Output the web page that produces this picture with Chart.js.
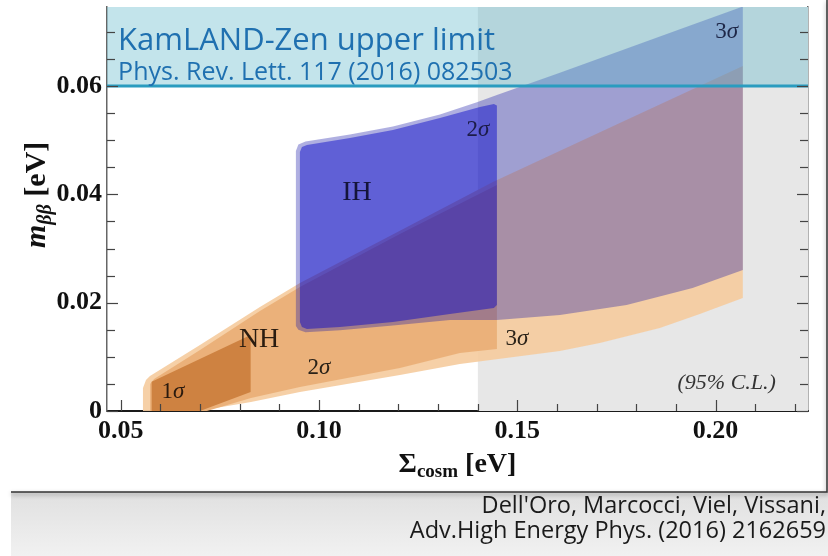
<!DOCTYPE html>
<html>
<head>
<meta charset="utf-8">
<script src="https://cdn.jsdelivr.net/npm/chart.js@4.4.1/dist/chart.umd.min.js"></script>
<style>
  html, body { margin: 0; padding: 0; background: #fff; }
  #wrap { width: 828px; height: 556px; }
</style>
</head>
<body>
<div id="wrap"><canvas id="c" width="828" height="556"></canvas></div>
<script>
// Axis ranges: Σ_cosm [eV] horizontally, m_ββ [eV] vertically
const xRange = [0.04655, 0.2233];
const yRange = [0, 0.0746];
const xMajorTicks = [0.05, 0.10, 0.15, 0.20];
const xMinorTicks = [0.06, 0.07, 0.08, 0.09, 0.11, 0.12, 0.13, 0.14, 0.16, 0.17, 0.18, 0.19, 0.21, 0.22];
const yMajorTicks = [0, 0.02, 0.04, 0.06];
const yMinorTicks = [0.005, 0.01, 0.015, 0.025, 0.03, 0.035, 0.045, 0.05, 0.055, 0.065, 0.07];

const kamlandLimit = 0.06;      // KamLAND-Zen bound on m_ββ
const disfavouredFrom = 0.14;   // Σ beyond this is shaded grey

// Normal hierarchy, 3σ region: upper edge left→right, lower edge right→left
const nh3Upper = [[0.05562, 0], [0.05562, 0.00425], [0.05638, 0.00572], [0.05739, 0.00646], [0.06999, 0.0122],
  [0.08511, 0.0192], [0.09519, 0.02363], [0.1204, 0.03329], [0.14384, 0.04228], [0.17585, 0.05316], [0.20686, 0.0637]];
const nh3Lower = [[0.20686, 0.02086], [0.19602, 0.01791], [0.18594, 0.01532], [0.17081, 0.01256], [0.16073, 0.01108],
  [0.13552, 0.00868], [0.1204, 0.00665], [0.09519, 0.00351], [0.08285, 0.00166], [0.06954, 0]];

// Normal hierarchy, 2σ region
const nh2Upper = [[0.05741, 0], [0.05741, 0.00499], [0.05842, 0.00591], [0.07, 0.01126], [0.08511, 0.01846],
  [0.09519, 0.0229], [0.1204, 0.03268], [0.14486, 0.04173]];
const nh2Lower = [[0.14486, 0.01145], [0.13553, 0.01071], [0.1204, 0.00794], [0.09519, 0.00443], [0.08285, 0.0024], [0.07175, 0]];

// Normal hierarchy, 1σ region
const nh1Upper = [[0.05781, 0], [0.05781, 0.00541], [0.08277, 0.01403]];
const nh1Lower = [[0.08277, 0.00351], [0.06999, 0]];

// Inverted hierarchy, 3σ region
const ih3Upper = [[0.09418, 0.01569], [0.09418, 0.04800], [0.09480, 0.04920], [0.09660, 0.04975], [0.1078, 0.05106],
  [0.11864, 0.05253], [0.13049, 0.05475], [0.13982, 0.05700], [0.14486, 0.05835], [0.16074, 0.06248],
  [0.17587, 0.06649], [0.19099, 0.0705], [0.20687, 0.07469]];
const ih3Lower = [[0.20687, 0.02603], [0.19419, 0.02271], [0.17755, 0.01957], [0.16074, 0.01773], [0.14486, 0.0168],
  [0.13301, 0.01680], [0.11864, 0.01580], [0.10528, 0.01490], [0.09660, 0.01455], [0.09480, 0.01500]];

// Inverted hierarchy, 2σ region
const ih2Upper = [[0.09519, 0.01643], [0.09519, 0.04782], [0.0957, 0.04875], [0.09696, 0.04911], [0.1078, 0.05041],
  [0.11864, 0.05188], [0.13049, 0.0541], [0.14057, 0.05613], [0.1441, 0.05669], [0.14486, 0.0564]];
const ih2Lower = [[0.14486, 0.01957], [0.1441, 0.01902], [0.13301, 0.01791], [0.11864, 0.01643], [0.10528, 0.01551],
  [0.09696, 0.01514], [0.0957, 0.01551]];

// In-plot labels, anchored in data coordinates
const sigmaNotes = [
  { n: '3', x: 0.2028, y: 0.0700, color: '#1e2748' },
  { n: '2', x: 0.1401, y: 0.0519, color: '#1c1c48' },
  { n: '2', x: 0.1000, y: 0.0079, color: '#2a2218' },
  { n: '1', x: 0.0632, y: 0.0035, color: '#2a1a0e' },
  { n: '3', x: 0.1499, y: 0.0133, color: '#2a2218' }
];
const hierarchyNotes = [
  { text: 'IH', x: 0.1096, y: 0.0404, color: '#14143a' },
  { text: 'NH', x: 0.0849, y: 0.0131, color: '#2a1c10' }
];
const clNote = { text: '(95% C.L.)', x: 0.2028, y: 0.0052 };
const kamlandTitle = 'KamLAND-Zen upper limit';
const kamlandRef = 'Phys. Rev. Lett. 117 (2016) 082503';
const creditLines = ["Dell'Oro, Marcocci, Viel, Vissani,", 'Adv.High Energy Phys. (2016) 2162659'];

const SERIF = '"Liberation Serif", "Times New Roman", serif';
const SANS = '"Open Sans", "DejaVu Sans", sans-serif';
const NONE = 'rgba(0,0,0,0)';

function polygon(upper, lower) {
  return upper.concat(lower).map(([x, y]) => ({ x, y }));
}
function region(label, upper, lower, color, order) {
  return {
    label, data: polygon(upper, lower), fill: 'shape', backgroundColor: color,
    borderColor: NONE, borderWidth: 0, pointRadius: 0, pointHoverRadius: 0, order
  };
}
// keep the plot frame exactly where the scales are sized, without label overhang padding
function noOverhang(s) {
  s.paddingTop = 0; s.paddingBottom = 0; s.paddingLeft = 0; s.paddingRight = 0;
}

function sigmaLabel(ctx, n, cx, cy, size, color) {
  ctx.font = `${size}px ${SERIF}`;
  const w1 = ctx.measureText(n).width;
  ctx.font = `italic ${size}px ${SERIF}`;
  const w2 = ctx.measureText('σ').width;
  const x0 = cx - (w1 + w2) / 2;
  ctx.fillStyle = color;
  ctx.textAlign = 'left';
  ctx.textBaseline = 'middle';
  ctx.font = `${size}px ${SERIF}`;
  ctx.fillText(n, x0, cy);
  ctx.font = `italic ${size}px ${SERIF}`;
  ctx.fillText('σ', x0 + w1, cy);
}

const decor = {
  id: 'decor',
  beforeDraw(chart) {
    const { ctx, width, height } = chart;
    ctx.save();
    ctx.fillStyle = '#ffffff';
    ctx.fillRect(0, 0, width, height);
    // credit strip under the panel
    const g = ctx.createLinearGradient(0, 492, 0, height);
    g.addColorStop(0, '#e0e0e0');
    g.addColorStop(1, '#f1f1f1');
    ctx.fillStyle = g;
    ctx.fillRect(11, 492, width - 11, height - 492);
    // panel edge with a soft shadow
    ctx.save();
    ctx.shadowColor = 'rgba(0,0,0,0.4)';
    ctx.shadowBlur = 4;
    ctx.shadowOffsetY = 2;
    ctx.strokeStyle = '#333';
    ctx.lineWidth = 1.5;
    ctx.beginPath();
    ctx.moveTo(11, 492);
    ctx.lineTo(827, 492);
    ctx.lineTo(827, 0);
    ctx.stroke();
    ctx.restore();
    ctx.fillStyle = '#1a1a1a';
    ctx.font = `23.5px ${SANS}`;
    ctx.textAlign = 'right';
    ctx.textBaseline = 'alphabetic';
    ctx.fillText(creditLines[0], 826, 513);
    ctx.fillText(creditLines[1], 826, 538);
    ctx.restore();
  },
  afterDraw(chart) {
    const { ctx, chartArea: a } = chart;
    const xs = chart.scales.x, ys = chart.scales.y;
    ctx.save();
    // inward tick marks on bottom, left and right edges
    ctx.strokeStyle = '#444';
    ctx.lineWidth = 1.2;
    const seg = (x1, y1, x2, y2) => { ctx.beginPath(); ctx.moveTo(x1, y1); ctx.lineTo(x2, y2); ctx.stroke(); };
    xMajorTicks.forEach(v => { const p = Math.round(xs.getPixelForValue(v)) + 0.5; seg(p, a.bottom, p, a.bottom - 11); });
    xMinorTicks.forEach(v => { const p = Math.round(xs.getPixelForValue(v)) + 0.5; seg(p, a.bottom, p, a.bottom - 7); });
    yMajorTicks.forEach(v => {
      const p = Math.round(ys.getPixelForValue(v)) + 0.5;
      seg(a.left, p, a.left + 11, p); seg(a.right, p, a.right - 11, p);
    });
    yMinorTicks.forEach(v => {
      const p = Math.round(ys.getPixelForValue(v)) + 0.5;
      seg(a.left, p, a.left + 8, p); seg(a.right, p, a.right - 8, p);
    });

    // KamLAND-Zen caption
    ctx.fillStyle = '#1f70b0';
    ctx.textAlign = 'left';
    ctx.textBaseline = 'alphabetic';
    const kx = xs.getPixelForValue(0.04935);
    ctx.font = `31px ${SANS}`;
    ctx.fillText(kamlandTitle, kx, ys.getPixelForValue(0.06666));
    ctx.font = `25px ${SANS}`;
    ctx.fillText(kamlandRef, kx, ys.getPixelForValue(0.06112));

    // region labels
    hierarchyNotes.forEach(n => {
      ctx.font = `28px ${SERIF}`;
      ctx.fillStyle = n.color;
      ctx.textAlign = 'center';
      ctx.textBaseline = 'middle';
      ctx.fillText(n.text, xs.getPixelForValue(n.x), ys.getPixelForValue(n.y));
    });
    sigmaNotes.forEach(n => sigmaLabel(ctx, n.n, xs.getPixelForValue(n.x), ys.getPixelForValue(n.y), 23, n.color));
    ctx.font = `italic 22px ${SERIF}`;
    ctx.fillStyle = '#333';
    ctx.textAlign = 'center';
    ctx.textBaseline = 'middle';
    ctx.fillText(clNote.text, xs.getPixelForValue(clNote.x), ys.getPixelForValue(clNote.y));

    // axis titles
    ctx.fillStyle = '#111';
    ctx.textAlign = 'left';
    ctx.textBaseline = 'alphabetic';
    // Σ_cosm [eV]
    const parts = [
      { t: 'Σ', f: `bold 28px ${SERIF}`, dy: 0 },
      { t: 'cosm', f: `bold 19px ${SERIF}`, dy: 5 },
      { t: ' [eV]', f: `bold 28px ${SERIF}`, dy: 0 }
    ];
    let total = 0;
    parts.forEach(p => { ctx.font = p.f; p.w = ctx.measureText(p.t).width; total += p.w; });
    let x = (a.left + a.right) / 2 - total / 2;
    parts.forEach(p => { ctx.font = p.f; ctx.fillText(p.t, x, 472 + p.dy); x += p.w; });
    // m_ββ [eV]
    ctx.translate(45, 248);
    ctx.rotate(-Math.PI / 2);
    const vparts = [
      { t: 'm', f: `italic bold 30px ${SERIF}`, dy: 0 },
      { t: 'ββ', f: `italic bold 20px ${SERIF}`, dy: 6 },
      { t: ' [eV]', f: `bold 30px ${SERIF}`, dy: 0 }
    ];
    x = 0;
    vparts.forEach(p => { ctx.font = p.f; ctx.fillText(p.t, x, p.dy); x += ctx.measureText(p.t).width; });
    ctx.restore();
  }
};

new Chart(document.getElementById('c'), {
  type: 'line',
  data: {
    datasets: [
      {
        label: 'disfavoured', data: [{ x: disfavouredFrom, y: yRange[1] }, { x: xRange[1], y: yRange[1] }],
        fill: 'start', backgroundColor: '#e7e7e7', borderColor: NONE, borderWidth: 0, pointRadius: 0, order: 9
      },
      region('NH 3σ', nh3Upper, nh3Lower, 'rgba(245,204,160,0.92)', 8),
      region('NH 2σ', nh2Upper, nh2Lower, 'rgba(234,176,120,0.96)', 7),
      region('NH 1σ', nh1Upper, nh1Lower, 'rgba(204,128,62,0.96)', 6),
      region('IH 3σ', ih3Upper, ih3Lower, 'rgba(26,26,169,0.35)', 5),
      region('IH 2σ', ih2Upper, ih2Lower, 'rgba(0,0,202,0.45)', 4),
      {
        label: 'KamLAND-Zen', data: [{ x: xRange[0], y: kamlandLimit }, { x: xRange[1], y: kamlandLimit }],
        fill: 'end', backgroundColor: 'rgba(97,184,203,0.38)', borderColor: '#2a9cbf', borderWidth: 3,
        pointRadius: 0, order: 1
      }
    ]
  },
  options: {
    responsive: false,
    animation: false,
    events: [],
    layout: { padding: { top: 7, left: 0, right: 0, bottom: 0 } },
    plugins: { legend: { display: false }, tooltip: { enabled: false } },
    scales: {
      x: {
        type: 'linear', position: 'bottom', min: xRange[0], max: xRange[1], z: 1,
        grid: { display: false, drawTicks: false },
        border: { display: true, color: '#1a1a1a', width: 2 },
        ticks: {
          autoSkip: false, maxRotation: 0, padding: 5, color: '#111',
          font: { family: SERIF, weight: 'bold', size: 26 },
          callback: v => Number(v).toFixed(2)
        },
        afterBuildTicks: s => { s.ticks = xMajorTicks.map(v => ({ value: v })); },
        afterFit: s => { s.height = 145; noOverhang(s); }
      },
      y: {
        type: 'linear', position: 'left', min: yRange[0], max: yRange[1], z: 1,
        grid: { display: false, drawTicks: false },
        border: { display: true, color: '#666', width: 1.5 },
        ticks: {
          autoSkip: false, padding: 5, color: '#111',
          font: { family: SERIF, weight: 'bold', size: 26 },
          callback: v => (v === 0 ? '0' : Number(v).toFixed(2))
        },
        afterBuildTicks: s => { s.ticks = yMajorTicks.map(v => ({ value: v })); },
        afterFit: s => { s.width = 107; noOverhang(s); }
      },
      yRight: {
        type: 'linear', position: 'right', min: yRange[0], max: yRange[1], z: 1,
        grid: { display: false, drawTicks: false },
        border: { display: true, color: '#666', width: 1.5 },
        ticks: { display: false },
        afterFit: s => { s.width = 20; noOverhang(s); }
      }
    }
  },
  plugins: [decor]
});
</script>
</body>
</html>
